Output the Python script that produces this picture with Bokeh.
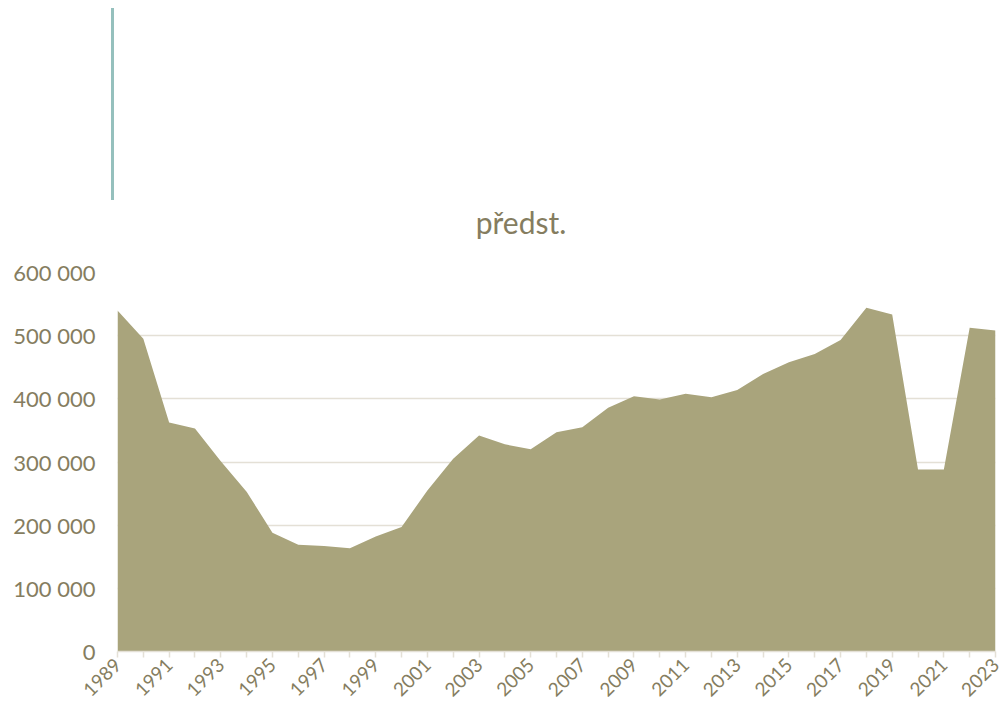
from bokeh.plotting import figure
from bokeh.models import ColumnDataSource, FixedTicker, Div, Range1d
from bokeh.layouts import column
from bokeh.embed import file_html
from bokeh.resources import INLINE
import math

years = list(range(1989, 2024))
values = [540000, 495000, 362500, 353000, 301000, 253000, 188000, 169000, 167000, 163500,
          182000, 197000, 255000, 305000, 342000, 328000, 320000, 347000, 355000, 386000,
          404000, 399000, 408000, 402500, 414000, 439500, 458000, 471000, 493000, 544000,
          533500, 288000, 288000, 512500, 508000]
y_ticks = [0, 100000, 200000, 300000, 400000, 500000, 600000]
y_labels = ["0", "100 000", "200 000", "300 000", "400 000", "500 000", "600 000"]
title_text = "předst."

FONT = "Lato"
TXT = "#857d60"
GRID = "#e4e0d6"

src = ColumnDataSource(dict(x=years, y=values, base=[0] * len(years)))

p = figure(width=1004, height=467, output_backend="svg", toolbar_location=None,
           x_range=Range1d(1989, 2023), y_range=Range1d(0, 600000),
           min_border_left=117, min_border_right=9, min_border_top=20, min_border_bottom=68)
p.varea(x="x", y1="base", y2="y", source=src, fill_color="#a9a47c")

p.outline_line_color = None
p.background_fill_color = "white"

p.xgrid.visible = False
p.ygrid.grid_line_color = GRID
p.ygrid.grid_line_width = 1.5
p.yaxis.ticker = FixedTicker(ticks=y_ticks)
p.yaxis.major_label_overrides = {t: l for t, l in zip(y_ticks, y_labels)}
p.yaxis.axis_line_color = None
p.yaxis.major_tick_line_color = None
p.yaxis.major_tick_out = 0
p.yaxis.major_tick_in = 0
p.yaxis.minor_tick_line_color = None
p.yaxis.major_label_text_font = FONT
p.yaxis.major_label_text_font_size = "22px"
p.yaxis.major_label_text_color = TXT
p.yaxis.major_label_standoff = 22

p.xaxis.ticker = FixedTicker(ticks=years)
p.xaxis.major_label_overrides = {y: (str(y) if (y - 1989) % 2 == 0 else "") for y in years}
p.xaxis.major_label_orientation = math.pi / 4
p.xaxis.axis_line_color = GRID
p.xaxis.axis_line_width = 1.5
p.xaxis.major_tick_line_color = GRID
p.xaxis.major_tick_line_width = 1.5
p.xaxis.major_tick_in = 0
p.xaxis.major_tick_out = 6
p.xaxis.minor_tick_line_color = None
p.xaxis.major_label_text_font = FONT
p.xaxis.major_label_text_font_size = "19px"
p.xaxis.major_label_text_color = TXT
p.xaxis.major_label_standoff = 4

html = ('<div style="position:absolute;left:111px;top:8px;width:3px;height:192px;background:#95c0bd;"></div>'
        '<div style="position:absolute;left:0px;top:205px;width:1042px;text-align:center;'
        'font-family:Lato;font-size:30px;line-height:34px;color:%s;">%s</div>' % (TXT, title_text))
top = Div(text=html, width=1004, height=252, margin=0, styles={"position": "relative"})

layout = column(top, p, spacing=0)
open("out.html", "w").write(file_html(layout, INLINE))
